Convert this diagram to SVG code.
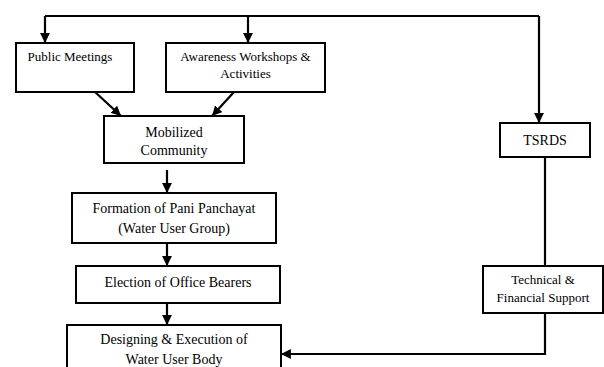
<svg xmlns="http://www.w3.org/2000/svg" width="604" height="367" viewBox="0 0 604 367">
<style>
.box{fill:#fff;stroke:#000;stroke-width:2}
.t{font-family:"Liberation Serif","Times New Roman",serif;font-size:14px;fill:#000;text-anchor:middle}
.s{font-size:13px}
.c{fill:none;stroke:#000;stroke-width:2.2}
</style>
<defs>
<marker id="ah" viewBox="0 0 10 10" refX="10" refY="5" markerWidth="4.5" markerHeight="4.5" orient="auto" markerUnits="strokeWidth">
<path d="M0,0 L10,5 L0,10 Z" fill="#000"/>
</marker>
</defs>
<rect width="604" height="367" fill="#fff"/>
<g id="connectors">
<path class="c" d="M45,16 H539"/>
<path class="c" d="M45,16 V43" marker-end="url(#ah)"/>
<path class="c" d="M248,16 V43" marker-end="url(#ah)"/>
<path class="c" d="M539,16 V123" marker-end="url(#ah)"/>
<path class="c" d="M95,92 L121,116" marker-end="url(#ah)"/>
<path class="c" d="M234,92 L212,116" marker-end="url(#ah)"/>
<path class="c" d="M167,170 V193" marker-end="url(#ah)"/>
<path class="c" d="M167,243 V266" marker-end="url(#ah)"/>
<path class="c" d="M167,303 V325" marker-end="url(#ah)"/>
<path class="c" d="M545,157 V266"/>
<path class="c" d="M545,313 V354 H281" marker-end="url(#ah)"/>
</g>
<g id="public-meetings">
<rect class="box" x="16" y="43" width="118" height="49"/>
<text class="t s" x="70" y="61">Public Meetings</text>
</g>
<g id="awareness">
<rect class="box" x="166" y="43" width="159" height="49"/>
<text class="t s" x="245.5" y="61">Awareness Workshops &amp;</text>
<text class="t s" x="245.5" y="78">Activities</text>
</g>
<g id="mobilized">
<rect class="box" x="104" y="116" width="140" height="47"/>
<text class="t" x="174" y="137">Mobilized</text>
<text class="t" x="174" y="155">Community</text>
</g>
<g id="formation">
<rect class="box" x="72" y="193" width="204" height="50"/>
<text class="t" x="174" y="213">Formation of Pani Panchayat</text>
<text class="t" x="174" y="233">(Water User Group)</text>
</g>
<g id="election">
<rect class="box" x="76" y="266" width="204" height="37"/>
<text class="t" x="178" y="287">Election of Office Bearers</text>
</g>
<g id="designing">
<rect class="box" x="67" y="325" width="214" height="50"/>
<text class="t" x="174" y="344">Designing &amp; Execution of</text>
<text class="t" x="174" y="364">Water User Body</text>
</g>
<g id="tsrds">
<rect class="box" x="500" y="123" width="90" height="34"/>
<text class="t" x="545" y="145">TSRDS</text>
</g>
<g id="support">
<rect class="box" x="483" y="266" width="120" height="47"/>
<text class="t s" x="543" y="284">Technical &amp;</text>
<text class="t s" x="543" y="302">Financial Support</text>
</g>
</svg>
